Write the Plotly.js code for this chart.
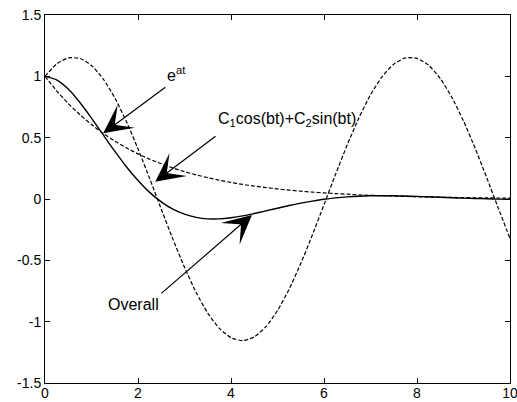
<!DOCTYPE html>
<html>
<head>
<meta charset="utf-8">
<script src="https://cdn.plot.ly/plotly-3.0.1.min.js"></script>
<style>
  html, body { margin: 0; padding: 0; background: #fff; }
  #chart { width: 517px; height: 402px; }
</style>
</head>
<body>
<div id="chart"></div>
<script>
// Time samples
var t = [0, 0.25, 0.5, 0.75, 1, 1.25, 1.5, 1.75, 2, 2.25, 2.5, 2.75, 3, 3.25, 3.5, 3.75,
         4, 4.25, 4.5, 4.75, 5, 5.25, 5.5, 5.75, 6, 6.25, 6.5, 6.75, 7, 7.25, 7.5, 7.75,
         8, 8.25, 8.5, 8.75, 9, 9.25, 9.5, 9.75, 10];

// Decaying envelope e^(at)
var envelope = [1, 0.882, 0.779, 0.687, 0.607, 0.535, 0.472, 0.417, 0.368, 0.325, 0.287,
                0.253, 0.223, 0.197, 0.174, 0.153, 0.135, 0.119, 0.105, 0.093, 0.082,
                0.072, 0.064, 0.056, 0.050, 0.044, 0.039, 0.034, 0.030, 0.027, 0.024,
                0.021, 0.018, 0.016, 0.014, 0.013, 0.011, 0.010, 0.009, 0.008, 0.007];

// Oscillating part C1 cos(bt) + C2 sin(bt)
var oscillation = [1, 1.101, 1.150, 1.146, 1.088, 0.979, 0.825, 0.632, 0.409, 0.168, -0.082,
                   -0.327, -0.557, -0.762, -0.930, -1.055, -1.131, -1.155, -1.124, -1.041, -0.909,
                   -0.735, -0.526, -0.293, -0.046, 0.203, 0.442, 0.661, 0.849, 0.997, 1.099,
                   1.150, 1.146, 1.090, 0.982, 0.828, 0.636, 0.414, 0.173, -0.076, -0.322];

// Product of the two: the overall response
var overall = [1, 0.971, 0.896, 0.787, 0.660, 0.524, 0.390, 0.263, 0.151, 0.054, -0.023,
               -0.083, -0.124, -0.150, -0.162, -0.162, -0.153, -0.138, -0.118, -0.097, -0.075,
               -0.053, -0.034, -0.017, -0.002, 0.009, 0.017, 0.023, 0.026, 0.027, 0.026,
               0.024, 0.021, 0.018, 0.014, 0.010, 0.007, 0.004, 0.002, -0.001, -0.002];

var xTicks = [0, 2, 4, 6, 8, 10];
var yTicks = [-1.5, -1, -0.5, 0, 0.5, 1, 1.5];
var yTickText = ['-1.5', '-1', '-0.5', '0', '0.5', '1', '1.5'];

var labelEnvelope = 'e<sup>at</sup>';
var labelOscillation = 'C<sub>1</sub>cos(bt)+C<sub>2</sub>sin(bt)';
var labelOverall = 'Overall';

var FONT = 'Arial, "Liberation Sans", Helvetica, sans-serif';

var traces = [
  { x: t, y: oscillation, mode: 'lines', line: { color: '#000', width: 1.2, dash: '4px,2px', shape: 'spline', smoothing: 0.6 } },
  { x: t, y: envelope, mode: 'lines', line: { color: '#000', width: 1.2, dash: '4px,2px', shape: 'spline', smoothing: 0.6 } },
  { x: t, y: overall, mode: 'lines', line: { color: '#000', width: 1.4, shape: 'spline', smoothing: 0.6 } }
];

// Pointer arrows (head at the curve, tail near the label)
function arrow(hx, hy, tx, ty) {
  return {
    x: hx, y: hy, ax: tx, ay: ty, xref: 'x', yref: 'y', axref: 'x', ayref: 'y',
    text: '', showarrow: true, arrowhead: 3, arrowsize: 4, arrowwidth: 1.2, arrowcolor: '#000'
  };
}
function label(txt, x, y, xanchor) {
  return {
    x: x, y: y, xref: 'x', yref: 'y', text: txt, showarrow: false,
    xanchor: xanchor, yanchor: 'middle', font: { family: FONT, size: 16, color: '#000' }
  };
}

var layout = {
  width: 517, height: 402,
  margin: { l: 45, r: 7, t: 15, b: 19, pad: 0 },
  paper_bgcolor: '#fff', plot_bgcolor: '#fff',
  showlegend: false,
  font: { family: FONT, size: 14, color: '#000' },
  xaxis: {
    range: [0, 10], tickvals: xTicks, ticktext: xTicks.map(String),
    ticks: 'inside', ticklen: 5, tickwidth: 1, tickcolor: '#000',
    showline: true, linecolor: '#000', linewidth: 1, mirror: 'allticks',
    showgrid: false, zeroline: false, tickfont: { family: FONT, size: 14 },
    ticklabeloverflow: 'allow', ticklabelstandoff: -3
  },
  yaxis: {
    range: [-1.5, 1.5], tickvals: yTicks, ticktext: yTickText,
    ticks: 'inside', ticklen: 5, tickwidth: 1, tickcolor: '#000',
    showline: true, linecolor: '#000', linewidth: 1, mirror: 'allticks',
    showgrid: false, zeroline: false, tickfont: { family: FONT, size: 14 }
  },
  annotations: [
    arrow(1.25, 0.535, 2.62, 0.92),
    arrow(2.37, 0.14, 3.70, 0.52),
    arrow(4.45, -0.13, 2.47, -0.78),
    label(labelEnvelope, 2.83, 1.02, 'center'),
    label(labelOscillation, 3.68, 0.65, 'left'),
    label(labelOverall, 1.90, -0.86, 'center')
  ]
};

Plotly.newPlot('chart', traces, layout, { staticPlot: true, displayModeBar: false });
</script>
</body>
</html>
